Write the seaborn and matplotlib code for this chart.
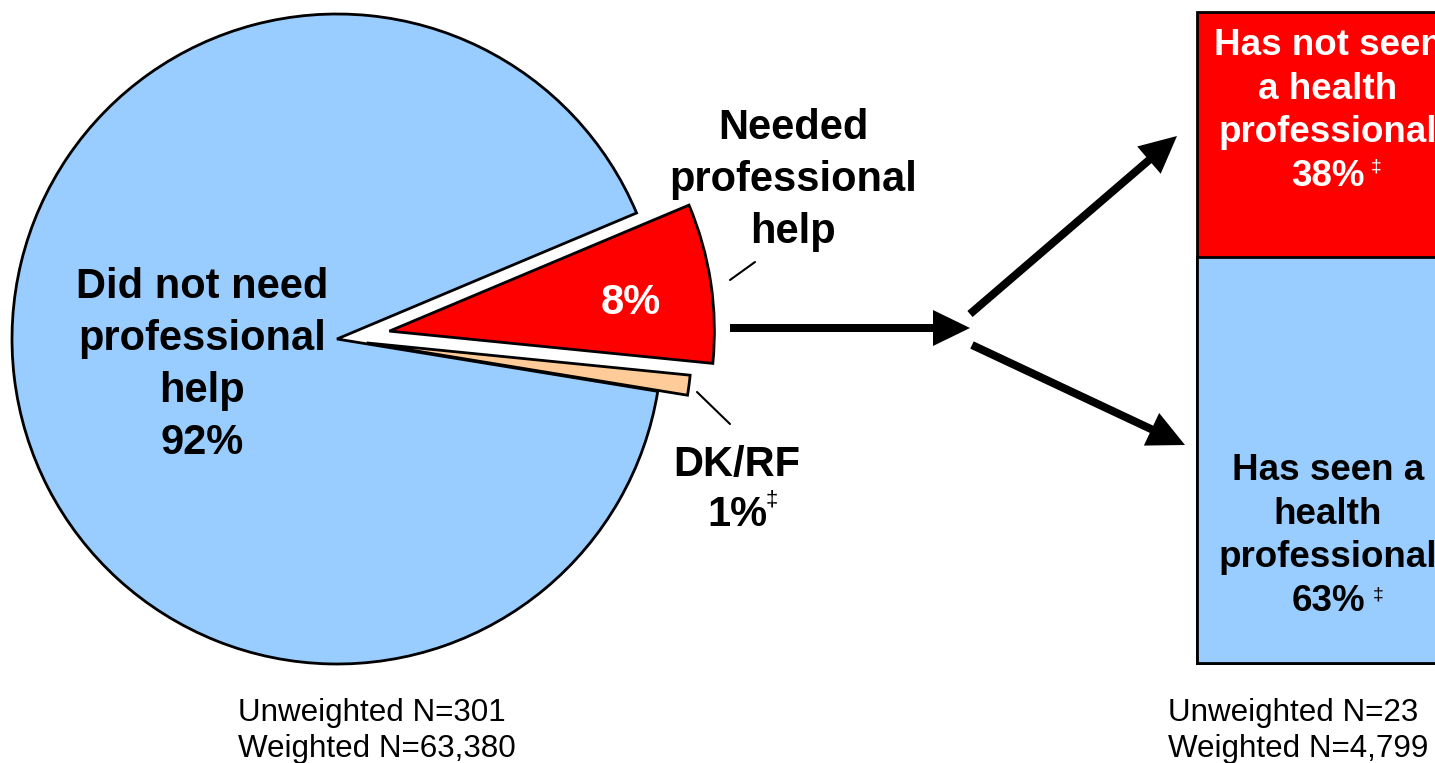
import matplotlib
matplotlib.use('Agg')
import matplotlib.pyplot as plt
import pandas as pd
import seaborn as sns

# pie: order is red, blue, peach so the red wedge sits just above 0 degrees
pie_labels = ["Needed\nprofessional\nhelp", "Did not need\nprofessional\nhelp", "DK/RF"]
pie_values = [8, 92, 1]
pie_colors = ["#FF0000", "#99CCFF", "#FFCC99"]
pie_explode = [53, 0, 30]  # in pixels, the axes uses pixel units

bar_labels = ["Has seen a\nhealth\nprofessional", "Has not seen\na health\nprofessional"]
bar_values = [63, 38]
bar_colors = ["#99CCFF", "#FF0000"]

sample_left = ["Unweighted N=301", "Weighted N=63,380"]
sample_right = ["Unweighted N=23", "Weighted N=4,799"]

W, H = 1435, 763


def draw_chart():
	sns.set_style("white")
	plt.rcParams['font.family'] = ['Liberation Sans', 'DejaVu Sans']
	plt.rcParams['text.color'] = 'black'

	fig = plt.figure(figsize=(W / 100, H / 100), dpi=100)

	# stacked bar on its own axes, drawn below the overlay
	bax = fig.add_axes([1197 / W, (H - 663) / H, 262 / W, 651 / H])
	total = sum(bar_values)
	df_total = pd.DataFrame({"g": ["all"], "v": [total]})
	df_seen = pd.DataFrame({"g": ["all"], "v": [bar_values[0]]})
	sns.barplot(data=df_total, x="g", y="v", color=bar_colors[1], saturation=1,
				width=1, edgecolor='black', linewidth=2, ax=bax)
	sns.barplot(data=df_seen, x="g", y="v", color=bar_colors[0], saturation=1,
				width=1, edgecolor='black', linewidth=2, ax=bax)
	for p in bax.patches:
		p.set_clip_on(False)
	bax.set_xlim(-0.5, 0.5)
	bax.set_ylim(0, total)
	bax.axis('off')
	bax.set_zorder(0)

	ax = fig.add_axes([0, 0, 1, 1])
	ax.set_zorder(1)
	ax.pie(
		pie_values,
		colors=pie_colors,
		explode=pie_explode,
		startangle=-5.7,
		counterclock=True,
		center=(337, H - 339),
		radius=325,
		wedgeprops=dict(edgecolor='black', linewidth=2),
	)
	ax.set_xlim(0, W)
	ax.set_ylim(0, H)
	ax.axis('off')

	big = dict(fontsize=30, fontweight='bold', ha='center', va='center', linespacing=1.38)
	ax.text(202, H - 365, f"{pie_labels[1]}\n{pie_values[1]}%", **big)
	ax.text(631, H - 303, f"{pie_values[0]}%", color='white', **big)
	ax.text(793, H - 180, pie_labels[0], **big)
	ax.text(737, H - 465, pie_labels[2], **big)
	ax.text(737, H - 515, f"{pie_values[2]}%", **big)
	ax.text(766, H - 500, "\u2021", fontsize=16, ha='left', va='center')

	# leader lines
	ax.plot([730, 755], [H - 280, H - 262], color='black', lw=1.5)
	ax.plot([697, 730], [H - 392, H - 424], color='black', lw=1.5)

	# arrows
	arrow = dict(width=8, head_width=36, head_length=37, length_includes_head=True,
				 color='black', lw=0)
	ax.arrow(730, H - 328, 240, 0, **arrow)
	ax.arrow(970, H - 314, 207, 178, **arrow)
	ax.arrow(972, H - 345, 213, -100, **arrow)

	mid = dict(fontsize=26.5, fontweight='bold', ha='center', va='center', linespacing=1.33)
	ax.text(1328, H - 111, f"{bar_labels[1]}\n{bar_values[1]}%", color='white', **mid)
	ax.text(1371, H - 167, "\u2021", color='white', fontsize=14, ha='left', va='center')
	ax.text(1328, H - 536, f"{bar_labels[0]}\n{bar_values[0]}%", color='black', **mid)
	ax.text(1373, H - 595, "\u2021", color='black', fontsize=14, ha='left', va='center')

	small = dict(fontsize=22.6, ha='left', va='center', linespacing=1.29)
	ax.text(238, H - 731, "\n".join(sample_left), **small)
	ax.text(1168, H - 731, "\n".join(sample_right), **small)

	fig.savefig('out.png', dpi=100)


def main():
	draw_chart()


if __name__ == "__main__":
	main()
